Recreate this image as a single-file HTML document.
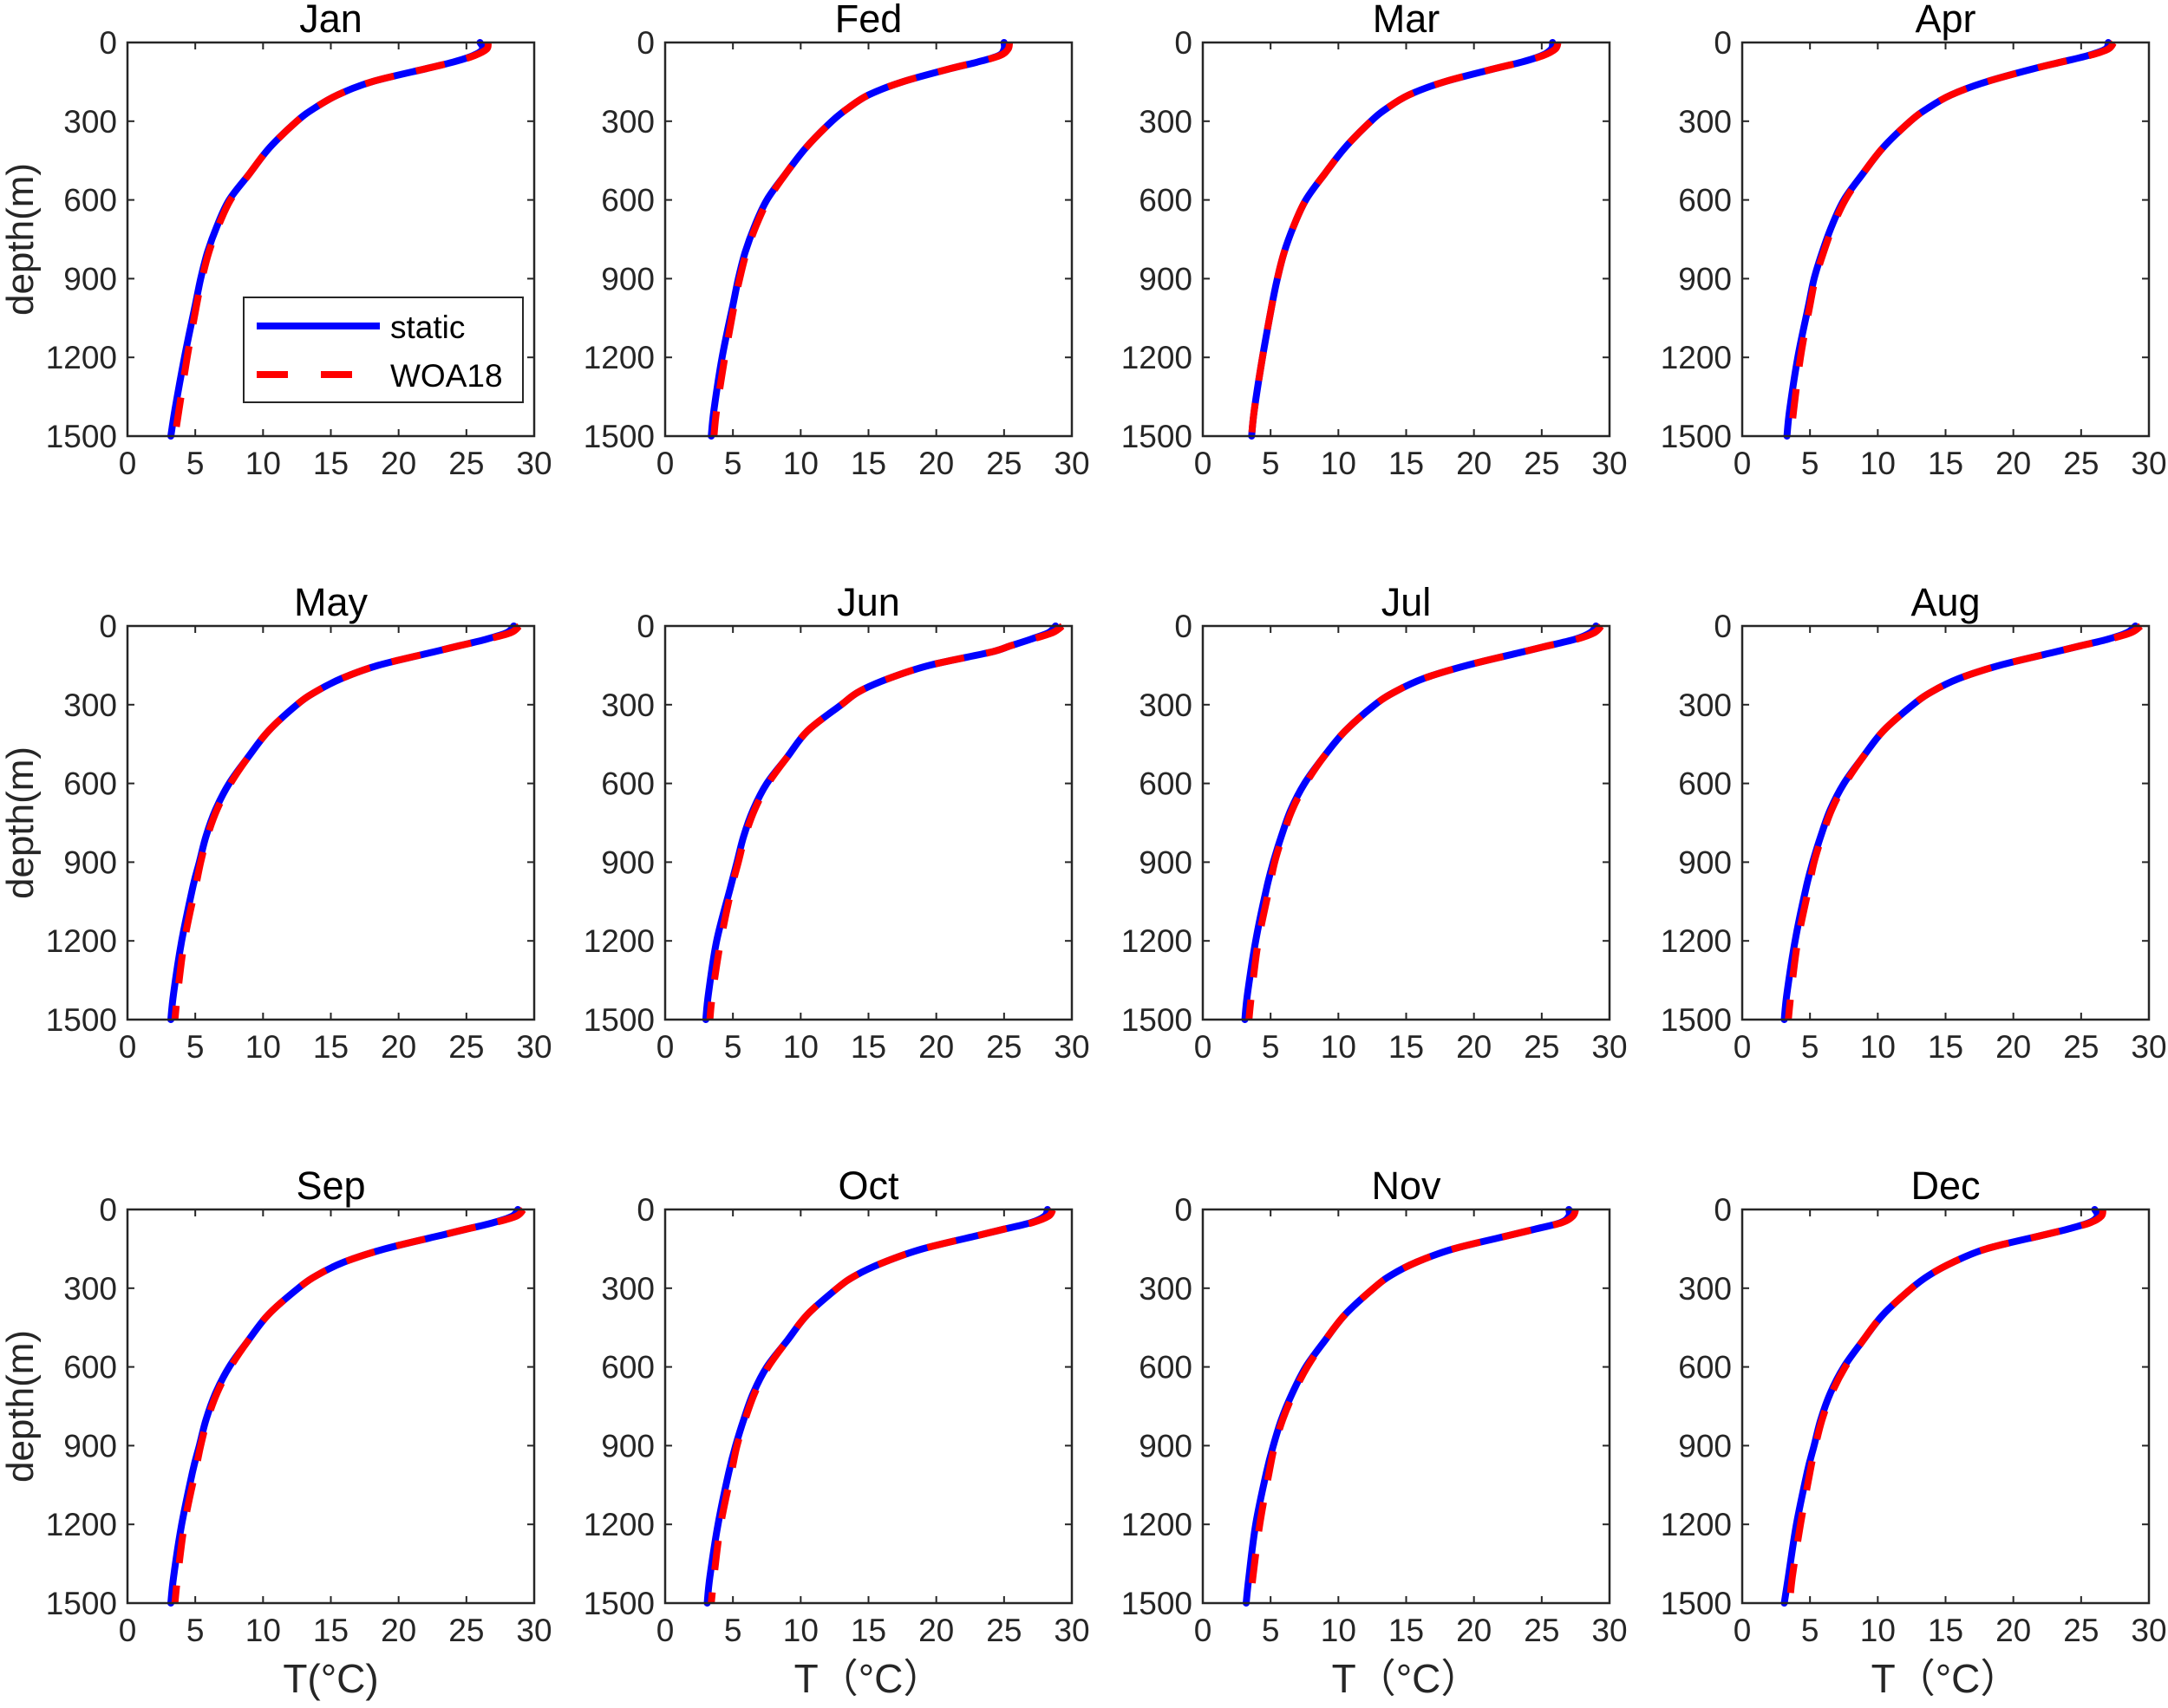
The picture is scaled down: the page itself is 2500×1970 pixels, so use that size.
<!DOCTYPE html>
<html><head><meta charset="utf-8"><style>
html,body{margin:0;padding:0;background:#fff}
svg text{font-family:"Liberation Sans","Noto Sans CJK SC",sans-serif}
</style></head><body>
<svg id="fig" width="2500" height="1965" viewBox="0 0 2500 1965" xmlns="http://www.w3.org/2000/svg"></svg>
<script>
const months = ["Jan","Fed","Mar","Apr","May","Jun","Jul","Aug","Sep","Oct","Nov","Dec"];
const depths = [0,25,50,75,100,150,200,250,300,400,500,600,700,800,900,1000,1200,1400,1500];
const xTicks = [0,5,10,15,20,25,30];
const yTicks = [0,300,600,900,1200,1500];
const staticJan = [26,26.2,25.5,24,22,18,15.5,13.8,12.5,10.5,9,7.5,6.6,5.9,5.4,5,4.2,3.5,3.2];
const staticFeb = [25,25,24.6,23,21,17.5,15,13.5,12.3,10.4,8.9,7.5,6.6,5.9,5.4,5,4.2,3.6,3.4];
const staticMar = [25.8,25.7,25,23.5,21.5,17.8,15.2,13.6,12.4,10.5,9,7.6,6.7,6,5.5,5.1,4.4,3.8,3.6];
const staticApr = [27,26.8,25.5,23.5,21.5,18,15.4,13.7,12.4,10.4,8.9,7.5,6.6,5.9,5.3,4.9,4.1,3.5,3.3];
const staticMay = [28.5,28,26.5,24.5,22.5,18.5,15.8,13.9,12.5,10.4,8.9,7.5,6.5,5.8,5.3,4.8,4.0,3.4,3.2];
const staticJun = [28.8,28.3,27,25.5,24,19.5,16.5,14.3,13,10.5,9,7.5,6.5,5.8,5.3,4.8,3.8,3.2,3.0];
const staticJul = [29,28.6,27.5,25.5,23.5,19.5,16.3,14.2,12.7,10.5,8.9,7.5,6.5,5.8,5.2,4.7,3.9,3.3,3.1];
const staticAug = [29,28.4,27,25,23,19,16,14,12.6,10.4,8.9,7.5,6.5,5.8,5.2,4.7,3.9,3.3,3.1];
const staticSep = [28.8,28.4,27,25,23,19,16,14,12.6,10.4,8.9,7.5,6.5,5.8,5.3,4.8,4.0,3.4,3.2];
const staticOct = [28.2,28,27,25,23,19,16.2,14.1,12.7,10.5,9,7.5,6.5,5.8,5.2,4.7,3.9,3.3,3.1];
const staticNov = [27,27,26.4,24.5,22.5,18.5,15.8,13.9,12.6,10.5,9,7.6,6.6,5.8,5.2,4.7,3.9,3.4,3.2];
const staticDec = [26,26.2,25.6,24,22,18,15.6,13.8,12.5,10.4,8.9,7.5,6.5,5.8,5.3,4.8,4.0,3.4,3.1];
const woaJan = [26.6,26.5,25.6,24,22,18,15.5,13.8,12.5,10.5,9,7.6,6.7,6.0,5.5,5.1,4.4,3.8,3.5];
const woaFeb = [25.4,25.3,24.7,23,21,17.5,15,13.5,12.3,10.4,8.9,7.6,6.7,6.0,5.5,5.1,4.4,3.8,3.6];
const woaMar = [26.2,26,25.1,23.5,21.5,17.8,15.2,13.6,12.4,10.5,9,7.6,6.7,6.0,5.5,5.1,4.4,3.8,3.6];
const woaApr = [27.4,27,25.6,23.5,21.5,18,15.4,13.7,12.4,10.4,8.9,7.6,6.7,6.0,5.4,5.0,4.3,3.8,3.6];
const woaMay = [28.9,28.3,26.6,24.5,22.5,18.5,15.8,13.9,12.5,10.4,8.9,7.6,6.6,5.9,5.4,5.0,4.2,3.7,3.5];
const woaJun = [29.3,28.6,27.1,25.5,24,19.5,16.5,14.3,13,10.5,9,7.6,6.6,5.9,5.4,4.9,4.1,3.5,3.3];
const woaJul = [29.4,28.9,27.6,25.5,23.5,19.5,16.3,14.2,12.7,10.5,8.9,7.6,6.6,5.9,5.3,4.9,4.1,3.6,3.4];
const woaAug = [29.4,28.7,27.1,25,23,19,16,14,12.6,10.4,8.9,7.6,6.6,5.9,5.3,4.9,4.1,3.6,3.4];
const woaSep = [29.2,28.7,27.1,25,23,19,16,14,12.6,10.4,8.9,7.6,6.6,5.9,5.4,5.0,4.2,3.7,3.5];
const woaOct = [28.6,28.3,27.1,25,23,19,16.2,14.1,12.7,10.5,9,7.6,6.6,5.9,5.3,4.9,4.1,3.6,3.4];
const woaNov = [27.5,27.3,26.5,24.5,22.5,18.5,15.8,13.9,12.6,10.5,9,7.7,6.7,5.9,5.3,4.9,4.2,3.7,3.5];
const woaDec = [26.6,26.5,25.7,24,22,18,15.6,13.8,12.5,10.4,8.9,7.6,6.6,5.9,5.4,5.0,4.3,3.7,3.5];
const staticSeries = [staticJan,staticFeb,staticMar,staticApr,staticMay,staticJun,staticJul,staticAug,staticSep,staticOct,staticNov,staticDec];
const woaSeries = [woaJan,woaFeb,woaMar,woaApr,woaMay,woaJun,woaJul,woaAug,woaSep,woaOct,woaNov,woaDec];

const NS = "http://www.w3.org/2000/svg";
const svg = document.getElementById('fig');
const colX = [147,767,1387,2009], rowY = [49,722,1395], W = 469, H = 454;
function mk(tag, attrs, parent){const e=document.createElementNS(NS,tag);for(const k in attrs)e.setAttribute(k,attrs[k]);parent.appendChild(e);return e;}
function smoothPath(p){
  let d='M'+p[0][0].toFixed(1)+','+p[0][1].toFixed(1);
  for(let i=0;i<p.length-1;i++){
    const p0=p[i-1]||p[i],p1=p[i],p2=p[i+1],p3=p[i+2]||p2;
    const c1=[p1[0]+(p2[0]-p0[0])/6,p1[1]+(p2[1]-p0[1])/6];
    const c2=[p2[0]-(p3[0]-p1[0])/6,p2[1]-(p3[1]-p1[1])/6];
    d+=' C'+c1.map(v=>v.toFixed(1)).join(',')+' '+c2.map(v=>v.toFixed(1)).join(',')+' '+p2.map(v=>v.toFixed(1)).join(',');
  }
  return d;
}

for(let m=0;m<12;m++){
  const x0 = colX[m%4], y0 = rowY[Math.floor(m/4)];
  const xs = v => x0 + v/30*W;
  const ys = d => y0 + d/1500*H;
  const g = mk('g',{},svg);
  
  
  const t = mk('text',{x:x0+W/2,y:y0-12,'font-size':45,'text-anchor':'middle',fill:'#000'},g);
  t.textContent = months[m];
  
  
  xTicks.forEach(v=>{
    const X = xs(v);
    mk('line',{x1:X,x2:X,y1:y0+H,y2:y0+H-8,stroke:'#262626','stroke-width':2},g);
    mk('line',{x1:X,x2:X,y1:y0,y2:y0+8,stroke:'#262626','stroke-width':2},g);
    const tl = mk('text',{x:X,y:y0+H+44,'font-size':37,'text-anchor':'middle',fill:'#262626'},g);
    tl.textContent = v;
    
    
  });
  yTicks.forEach(v=>{
    const Y = ys(v);
    mk('line',{x1:x0,x2:x0+8,y1:Y,y2:Y,stroke:'#262626','stroke-width':2},g);
    mk('line',{x1:x0+W,x2:x0+W-8,y1:Y,y2:Y,stroke:'#262626','stroke-width':2},g);
    const tl = mk('text',{x:x0-12,y:Y+13,'font-size':37,'text-anchor':'end',fill:'#262626'},g);
    tl.textContent = v;
    
    
  });
  const pts = arr => arr.map((v,i)=>[xs(v),ys(depths[i])]);
  const l1 = mk('path',{d:smoothPath(pts(staticSeries[m])),fill:'none',stroke:'#0000ff','stroke-width':8,'stroke-linejoin':'round','stroke-linecap':'round'},g);
  
  
  const l2 = mk('path',{d:smoothPath(pts(woaSeries[m])),fill:'none',stroke:'#ff0000','stroke-width':8,'stroke-dasharray':'34 26','stroke-linejoin':'round'},g);
  
  
  const box = mk('rect',{x:x0,y:y0,width:W,height:H,fill:'none',stroke:'#262626','stroke-width':2.5},g);
  
  
  if(m%4===0){
    const yl = mk('text',{x:0,y:0,'font-size':44,'text-anchor':'middle',fill:'#262626',transform:`translate(38,${y0+H/2}) rotate(-90)`},g);
    yl.textContent='depth(m)';
    
    
  }
  if(m>=8){
    const xl = mk('text',{x:x0+W/2,y:1952,'font-size':46,'text-anchor':'middle',fill:'#262626'},g);
    xl.textContent = m===8 ? 'T(°C)' : 'T（°C）';
    
    
  }
}
const lg = mk('g',{},svg);


mk('rect',{x:281,y:343,width:322,height:121,fill:'#fff',stroke:'#262626','stroke-width':2},lg);
mk('line',{x1:296,x2:438,y1:376,y2:376,stroke:'#0000ff','stroke-width':8},lg);
mk('line',{x1:296,x2:438,y1:432,y2:432,stroke:'#ff0000','stroke-width':8,'stroke-dasharray':'36 38'},lg);
const s1 = mk('text',{x:450,y:390,'font-size':37,fill:'#000'},lg); s1.textContent='static';


const s2 = mk('text',{x:450,y:446,'font-size':37,fill:'#000'},lg); s2.textContent='WOA18';


</script>
</body></html>
